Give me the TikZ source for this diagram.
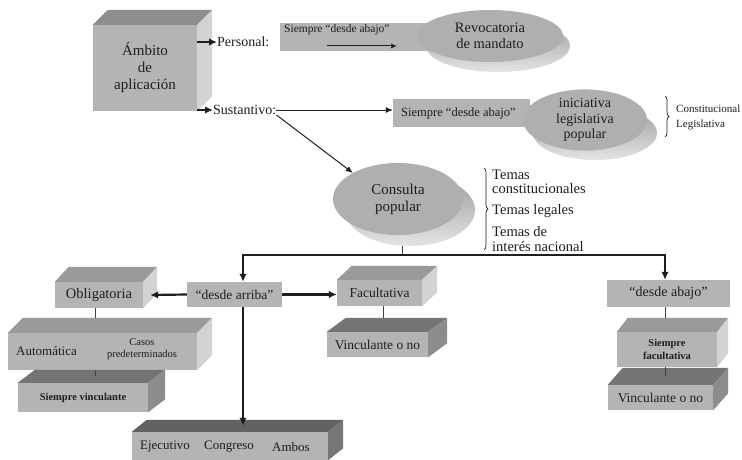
\documentclass[tikz,border=0pt]{standalone}
\usepackage{fontspec}
\setmainfont{Liberation Serif}
\usetikzlibrary{shapes.geometric,arrows.meta,decorations.pathreplacing}
\definecolor{frontc}{HTML}{B4B4B4}
\definecolor{ambtop}{HTML}{8E8E8E}
\definecolor{ltop}{HTML}{9A9A9A}
\definecolor{lside}{HTML}{D3D3D3}
\definecolor{dtop}{HTML}{747474}
\definecolor{dside}{HTML}{8C8C8C}
\definecolor{etop}{HTML}{626262}
\definecolor{eside}{HTML}{777777}
\definecolor{ellc}{HTML}{AFAFAF}
\definecolor{shtop}{HTML}{9C9C9C}
\definecolor{shbot}{HTML}{E4E4E4}
\definecolor{txt}{HTML}{1E1E1E}
\newcommand\fsz[2]{\fontsize{#1}{#2}\selectfont}
\newcommand\depthfaces[5]{%
 \fill[#4] (#1.north west) -- ++(#2,-#3) -- ([shift={(#2,-#3)}]#1.north east) -- (#1.north east) -- cycle;
 \fill[#5] (#1.north east) -- ++(#2,-#3) -- ([shift={(#2,-#3)}]#1.south east) -- (#1.south east) -- cycle;
 \coordinate (#1-back) at ([shift={(0,-#3)}]#1.north);
 \coordinate (#1-mid) at ([shift={(0,-#3/2)}]#1.north);
}
\begin{document}
\begin{tikzpicture}[x=1pt,y=-1pt,
  face/.style={fill=frontc, inner sep=0pt, text=txt, align=center},
  ell/.style={ellipse, fill=ellc, inner sep=0pt, text=txt, align=center},
  lbl/.style={inner sep=0pt, text=txt, align=left},
  shadowell/.style={top color=shtop, bottom color=shbot},
  bigarrow/.style={line width=2.2pt, draw=txt, -{Latex[length=8pt,width=7.5pt]}},
  medarrow/.style={line width=1pt, draw=txt, -{Latex[length=7pt,width=6pt]}},
  thinarrow/.style={line width=1pt, draw=txt, -{Latex[length=6pt,width=5pt]}},
  conn/.style={line width=0.8pt, draw=txt!85},
  bracestyle/.style={draw=txt, line width=0.7pt, decorate, decoration={brace, amplitude=4pt}}
]
\fill[white] (0,0) rectangle (742,460);
\useasboundingbox (0,0) rectangle (742,460);

% Ambito
\node[face, minimum width=104pt, minimum height=86pt, font=\fsz{15}{17}] (amb) at (145,68) {Ámbito\\de\\aplicación};
\depthfaces{amb}{15}{15}{ambtop}{lside}
\node[lbl, anchor=west, font=\fsz{14}{15}] (per) at (217,42) {Personal:};
\node[lbl, anchor=west, font=\fsz{14}{15}] (sus) at (213,110) {Sustantivo:};
\draw[bigarrow] (amb.east |- per.west) -- (per.west);
\draw[bigarrow] (amb.east |- sus.west) -- (sus.west);

% Revocatoria
\shade[shadowell] (498,46) ellipse [x radius=72, y radius=26];
\node[face, minimum width=150pt, minimum height=28pt] (revr) at (355,37) {};
\node[ell, minimum width=146pt, minimum height=52pt, font=\fsz{14.5}{16.5}] (reve) at (490,36) {Revocatoria\\de mandato};
\node[lbl, anchor=west, font=\fsz{11.5}{12}] (revt) at (284,30) {Siempre “desde abajo”};
\coordinate (ra1) at (327,46);
\coordinate (ra2) at (397,46);
\draw[thinarrow] (ra1) -- (ra2);

% Iniciativa
\shade[shadowell] (595,133) ellipse [x radius=62, y radius=27];
\node[face, minimum width=137pt, minimum height=28pt] (inir) at (461.5,113) {};
\node[lbl, anchor=west, font=\fsz{12.5}{13}] (init) at (401,113) {Siempre “desde abajo”};
\node[ell, minimum width=124pt, minimum height=54pt, font=\fsz{14}{15.5}] (inie) at (585,120) {iniciativa\\legislativa\\popular};
\draw[medarrow] (sus.east) -- (sus.east -| inir.west);
\draw[bracestyle] (665,96) -- (665,137);
\node[lbl, anchor=west, font=\fsz{11}{12}] (cl1) at (676,109) {Constitucional};
\node[lbl, anchor=west, font=\fsz{11}{12}] (cl2) at (676,125) {Legislativa};

% Consulta
\shade[shadowell] (410,210) ellipse [x radius=65, y radius=36];
\node[ell, minimum width=130pt, minimum height=72pt, font=\fsz{15}{17}] (cons) at (398,199) {Consulta\\popular};
\draw[medarrow] (sus.south east) -- (cons.150);
\draw[bracestyle] (484,168) -- (484,250);
\node[lbl, anchor=west, font=\fsz{14.5}{14.5}] (t1) at (492,182) {Temas\\constitucionales};
\node[lbl, anchor=west, font=\fsz{14.5}{14.5}] (t2) at (492,211) {Temas legales};
\node[lbl, anchor=west, font=\fsz{14.5}{14.5}] (t3) at (492,239) {Temas de\\interés nacional};

% Second level
\node[face, minimum width=95pt, minimum height=25pt, font=\fsz{13.5}{15}] (arr) at (234.5,294.5) {“desde arriba”};
\node[face, minimum width=123pt, minimum height=27pt, font=\fsz{14}{15}] (abj) at (668.5,293.5) {“desde abajo”};
\node[face, minimum width=88pt, minimum height=26pt, font=\fsz{14.5}{16}] (obl) at (99,295) {Obligatoria};
\depthfaces{obl}{14}{15}{ltop}{lside}
\node[face, minimum width=85pt, minimum height=26pt, font=\fsz{13.5}{15}] (fac) at (379.5,293) {Facultativa};
\depthfaces{fac}{15}{14}{ltop}{lside}

% Third level
\node[face, minimum width=189pt, minimum height=37pt] (aut) at (102.5,351.5) {};
\depthfaces{aut}{15}{15}{ltop}{lside}
\node[lbl, anchor=west, font=\fsz{13}{14}] (autt) at (16,351) {Automática};
\node[lbl, align=center, font=\fsz{10.5}{12}] (caso) at (142,349) {Casos\\predeterminados};
\node[face, minimum width=101pt, minimum height=25pt, font=\fsz{13.5}{15}] (vin1) at (377.5,344.5) {Vinculante o no};
\depthfaces{vin1}{19}{14}{dtop}{dside}
\node[face, minimum width=100pt, minimum height=35pt, font=\bfseries\fsz{10.5}{13}] (sfa) at (667,349.5) {Siempre\\facultativa};
\depthfaces{sfa}{11}{14}{ltop}{lside}

% Fourth level
\node[face, minimum width=130pt, minimum height=29pt, font=\bfseries\fsz{10.5}{12}] (siv) at (83,397.5) {Siempre vinculante};
\depthfaces{siv}{17}{13}{dtop}{dside}
\node[face, minimum width=105pt, minimum height=25pt, font=\fsz{13.5}{15}] (vin2) at (660.5,397.5) {Vinculante o no};
\depthfaces{vin2}{15}{17}{dtop}{dside}
\node[face, minimum width=196pt, minimum height=28pt] (ejec) at (230,446) {};
\depthfaces{ejec}{15}{12}{etop}{eside}
\node[lbl, font=\fsz{13}{14}] (ej1) at (165,447) {Ejecutivo};
\node[lbl, font=\fsz{13}{14}] (ej2) at (229,447) {Congreso};
\node[lbl, font=\fsz{13}{14}] (ej3) at (291,447) {Ambos};

% Bus and connectors
\coordinate (cb) at (402,246);
\coordinate (jl) at (243,255);
\coordinate (jr) at (665,255);
\draw[conn] (cb) -- (cb |- jl);
\draw[line width=1.8pt, draw=txt, {Latex[length=8pt,width=7.5pt]}-{Latex[length=8pt,width=7.5pt]}] (jl |- arr.north) -- (jl) -- (jr) -- (jr |- abj.north);
\draw[bigarrow] (arr.west) -- ([xshift=7pt]obl.east);
\draw[bigarrow] (arr.east) -- (fac.west |- arr.east);
\draw[bigarrow] (jl |- arr.south) -- (jl |- ejec-mid);
\draw[conn] ([xshift=-4pt]obl.south) -- ([xshift=-4pt]obl.south |- aut-back);
\draw[conn] ([xshift=-4pt]obl.south |- aut.south) -- ([xshift=-4pt]obl.south |- siv-mid);
\draw[conn] ([xshift=4pt]fac.south) -- ([xshift=4pt]fac.south |- vin1-back);
\draw[conn] (jr |- abj.south) -- (jr |- sfa-back);
\draw[conn] (jr |- sfa.south) -- (jr |- vin2-mid);
\end{tikzpicture}
\end{document}
